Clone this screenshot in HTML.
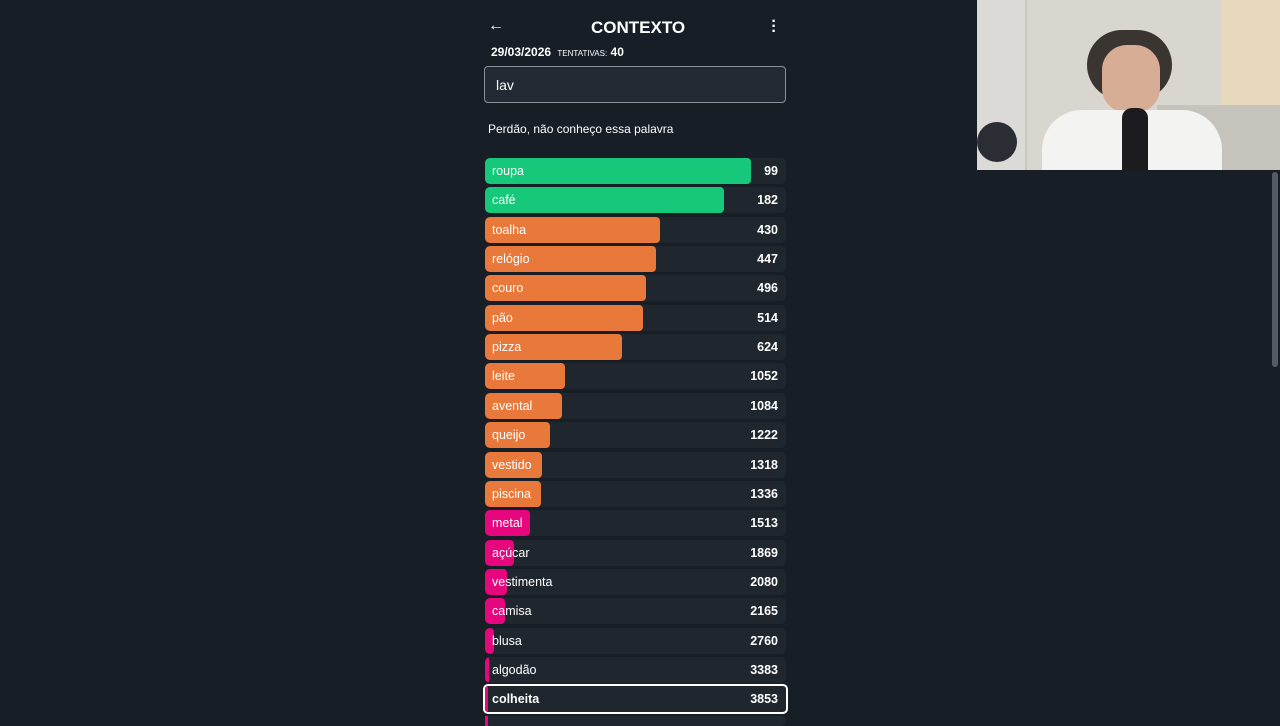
<!DOCTYPE html>
<html><head><meta charset="utf-8"><style>
body{margin:0;width:1280px;height:720px;overflow:hidden;background:#181e26;font-family:"Liberation Sans",sans-serif;color:#fff;position:relative}
.abs{position:absolute}
.row{position:absolute;left:485px;width:301px;height:26px;border-radius:5px;background:#1f262e;overflow:hidden}
.bar{position:absolute;left:0;top:0;height:26px;border-radius:4px}
.lbl{position:absolute;left:7px;top:6px;font-size:12.5px;color:#fff}
.val{position:absolute;right:8px;top:6px;font-size:12.5px;color:#fff;font-weight:600}
</style></head><body>
<div class="abs" style="left:488px;top:17px;font-size:16px;font-weight:bold">&#8592;</div>
<div class="abs" style="left:591px;top:18px;font-size:17px;font-weight:bold">CONTEXTO</div>
<div class="abs" style="left:771px;top:19px;font-size:16px;font-weight:bold;line-height:5px;width:6px;text-align:center">·<br>·<br>·</div>
<div class="abs" style="left:491px;top:45px;font-size:12px;font-weight:bold">29/03/2026 <span style="font-size:8px;font-weight:normal;margin-left:3px">TENTATIVAS:</span> 40</div>
<div class="abs" style="left:484px;top:66px;width:300px;height:35px;border:1px solid #8a9099;border-radius:4px;background:#232a33"><span style="position:absolute;left:11px;top:10px;font-size:14px">lav</span></div>
<div class="abs" style="left:488px;top:122px;font-size:12px">Perdão, não conheço essa palavra</div>
<div id="list"></div>
<div class="abs" style="left:485px;top:716px;width:301px;height:10px;background:#1f262e;border-radius:5px"><div style="width:3px;height:10px;background:#e6077f"></div></div>
<div class="abs" style="left:1272px;top:172px;width:6px;height:195px;background:#555b63;border-radius:3px"></div>
<div class="abs" style="left:977px;top:0;width:303px;height:170px;background:#d9d6d0;overflow:hidden">
<div class="abs" style="left:0;top:0;width:48px;height:170px;background:#dcdad6;border-right:2px solid #c9c6c0"></div>
<div class="abs" style="left:245px;top:0;width:58px;height:105px;background:#e6d9bc"></div>
<div class="abs" style="left:180px;top:105px;width:123px;height:65px;background:#b9b6b0;opacity:.6"></div>
<div class="abs" style="left:110px;top:30px;width:85px;height:70px;border-radius:40px;background:#3a3530"></div>
<div class="abs" style="left:125px;top:45px;width:58px;height:68px;border-radius:25px;background:#d7ad95"></div>
<div class="abs" style="left:65px;top:110px;width:180px;height:70px;border-radius:40px 40px 0 0;background:#f3f3f1"></div>
<div class="abs" style="left:145px;top:108px;width:26px;height:62px;border-radius:10px 10px 0 0;background:#1c1c1e"></div>
<div class="abs" style="left:0;top:122px;width:40px;height:40px;border-radius:20px;background:#2a2d33"></div>
</div>
<script>
const words=["roupa","café","toalha","relógio","couro","pão","pizza","leite","avental","queijo","vestido","piscina","metal","açúcar","vestimenta","camisa","blusa","algodão","colheita"];
const ranks=[99,182,430,447,496,514,624,1052,1084,1222,1318,1336,1513,1869,2080,2165,2760,3383,3853];
const ROW_W=301,TOP=158,STEP=29.35;
function barWidth(v){return Math.max(3,ROW_W*Math.exp(-0.00126*v));}
function color(v){return v<300?"#16c97a":v<1500?"#e8793a":"#e6077f";}
const list=document.getElementById('list');
ranks.forEach((v,i)=>{
 const r=document.createElement('div');r.className='row';
 
 
 r.style.top=(TOP+i*STEP)+'px';
 const last=i===ranks.length-1;
 if(last){r.style.border='2px solid #fff';r.style.left='483px';r.style.top=(TOP+i*STEP-2)+'px';r.style.height='26px';}
 const b=document.createElement('div');b.className='bar';
 
 
 b.style.width=barWidth(v)+'px';b.style.background=color(v);
 r.appendChild(b);
 const l=document.createElement('div');l.className='lbl';l.textContent=words[i];
 
 
 const n=document.createElement('div');n.className='val';n.textContent=v;
 
 
 if(last){l.style.fontWeight='bold';n.style.fontWeight='bold';}
 r.appendChild(l);r.appendChild(n);list.appendChild(r);
});
</script>
</body></html>
